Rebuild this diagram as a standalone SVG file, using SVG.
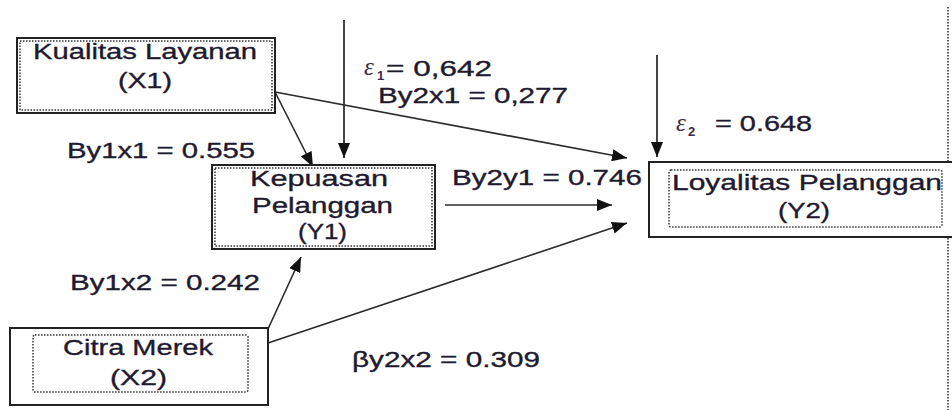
<svg xmlns="http://www.w3.org/2000/svg" width="952" height="410" viewBox="0 0 952 410">
  <style>
    .box { fill: #ffffff; stroke: #222222; stroke-width: 2; }
    .inner { fill: none; stroke: #333333; stroke-width: 1.5; stroke-dasharray: 1.5 1.5; }
    .lbl { font-family: "Liberation Sans", Arial, sans-serif; font-size: 22px; fill: #1e1a30; stroke: #1e1a30; stroke-width: 0.35; }
    .eps { font-family: "Liberation Serif", "Times New Roman", serif; font-style: italic; font-size: 25px; fill: #3a2a48; }
    .sub { font-family: "Liberation Sans", Arial, sans-serif; font-weight: bold; font-size: 13px; fill: #3a2a48; }
    .edge { stroke: #2a2a2a; stroke-width: 1.6; fill: none; marker-end: url(#arrow); }
    .err { stroke: #444444; stroke-width: 2; fill: none; marker-end: url(#arrow); }
  </style>
  <defs>
    <marker id="arrow" markerUnits="userSpaceOnUse" markerWidth="16" markerHeight="12" refX="15" refY="6" orient="auto">
      <path d="M0,0 L15,6 L0,12 z" fill="#111111"/>
    </marker>
  </defs>

  <rect width="952" height="410" fill="#ffffff"/>

  <!-- page margin guide on the right -->
  <line x1="948" y1="7" x2="948" y2="410" stroke="#222222" stroke-width="1.5" stroke-dasharray="1.5 1.5"/>

  <!-- connectors -->
  <g id="connectors">
    <line class="err" x1="344" y1="20" x2="344" y2="158"/>
    <line class="err" x1="657" y1="55" x2="657" y2="157"/>
    <line class="edge" x1="275" y1="92" x2="313" y2="167"/>
    <line class="edge" x1="275" y1="92" x2="627" y2="158"/>
    <line class="edge" x1="445" y1="205" x2="612" y2="205"/>
    <line class="edge" x1="268" y1="329" x2="301" y2="257"/>
    <line class="edge" x1="268" y1="343" x2="627" y2="223"/>
  </g>

  <!-- Kualitas Layanan (X1) -->
  <g id="x1">
    <rect class="box" x="17" y="38" width="258" height="75"/>
    <rect class="inner" x="20" y="41" width="252" height="69"/>
    <text class="lbl" x="33" y="59" textLength="224" lengthAdjust="spacingAndGlyphs">Kualitas Layanan</text>
    <text class="lbl" x="118" y="88" textLength="54" lengthAdjust="spacingAndGlyphs">(X1)</text>
  </g>

  <!-- Kepuasan Pelanggan (Y1) -->
  <g id="y1">
    <rect class="box" x="212" y="165" width="223" height="84"/>
    <rect class="inner" x="215" y="168" width="217" height="78"/>
    <text class="lbl" x="250" y="186" textLength="138" lengthAdjust="spacingAndGlyphs">Kepuasan</text>
    <text class="lbl" x="252" y="213" textLength="141" lengthAdjust="spacingAndGlyphs">Pelanggan</text>
    <text class="lbl" x="298" y="239" textLength="49" lengthAdjust="spacingAndGlyphs">(Y1)</text>
  </g>

  <!-- Loyalitas Pelanggan (Y2) -->
  <g id="y2">
    <rect class="box" x="649" y="162" width="310" height="75"/>
    <rect class="inner" x="669" y="170" width="273" height="57" rx="2"/>
    <text class="lbl" x="672" y="190" textLength="270" lengthAdjust="spacingAndGlyphs">Loyalitas Pelanggan</text>
    <text class="lbl" x="778" y="218" textLength="52" lengthAdjust="spacingAndGlyphs">(Y2)</text>
  </g>

  <!-- Citra Merek (X2) -->
  <g id="x2">
    <rect class="box" x="10" y="328" width="258" height="77"/>
    <rect class="inner" x="33" y="335" width="215" height="57" rx="2"/>
    <text class="lbl" x="63" y="355" textLength="150" lengthAdjust="spacingAndGlyphs">Citra Merek</text>
    <text class="lbl" x="110" y="385" textLength="57" lengthAdjust="spacingAndGlyphs">(X2)</text>
  </g>

  <!-- path coefficients and error terms -->
  <g id="labels">
    <text class="eps" x="364" y="75">ε</text>
    <text class="sub" x="377" y="80">1</text>
    <text class="lbl" x="386" y="76" textLength="106" lengthAdjust="spacingAndGlyphs">= 0,642</text>
    <text class="lbl" x="378" y="103" textLength="190" lengthAdjust="spacingAndGlyphs">By2x1 = 0,277</text>
    <text class="lbl" x="67" y="158" textLength="188" lengthAdjust="spacingAndGlyphs">By1x1 = 0.555</text>
    <text class="lbl" x="452" y="185" textLength="190" lengthAdjust="spacingAndGlyphs">By2y1 = 0.746</text>
    <text class="eps" x="676" y="131">ε</text>
    <text class="sub" x="688" y="136">2</text>
    <text class="lbl" x="715" y="131" textLength="97" lengthAdjust="spacingAndGlyphs">= 0.648</text>
    <text class="lbl" x="70" y="290" textLength="190" lengthAdjust="spacingAndGlyphs">By1x2 = 0.242</text>
    <text class="lbl" x="352" y="367" textLength="188" lengthAdjust="spacingAndGlyphs">βy2x2 = 0.309</text>
  </g>
</svg>
